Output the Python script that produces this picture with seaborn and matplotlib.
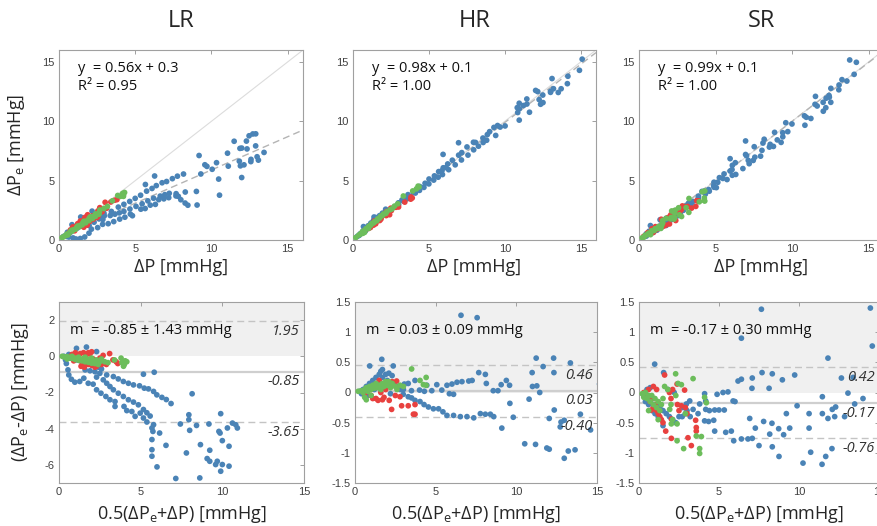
import numpy as np
import pandas as pd
import seaborn as sns
import matplotlib.pyplot as plt
from matplotlib.ticker import FuncFormatter

# ---------------- data (Bland-Altman coordinates: mean, difference) ----------------
lr_blue_m = [0.3,0.5,0.7,0.9,1.1,1.3,1.5,1.8,2.0,2.2,2.4,2.6,1.07,1.68,2.3,0.6,0.4,0.45,
             0.55,0.6,0.76,0.97,1.27,1.52,
             1.6,1.9,2.2,2.5,2.92,3.33,3.63,3.94,4.25,4.56,4.93,5.22,5.48,5.79,5.99,6.3,6.57,6.86,
             2.3,2.71,2.92,3.12,3.33,3.63,3.94,4.25,4.56,4.86,5.17,5.38,5.58,
             1.79,2.09,2.3,2.57,2.87,3.12,3.43,3.43,3.98,4.15,4.46,4.66,4.97,5.17,5.38,5.69,5.75,5.69,5.69,5.69,6.0,6.55,6.16,5.79,
             5.17,5.83,8.15,7.43,7.95,7.95,8.0,8.42,7.8,7.15,8.62,8.66,9.18,9.23,9.07,9.23,9.59,9.69,9.86,9.79,9.9,10.0,9.9,10.0,10.41,10.41,10.31,10.62,10.82,10.92]
lr_blue_d = [0.0,-0.05,-0.1,-0.15,-0.2,-0.25,-0.3,-0.4,-0.45,-0.5,-0.6,-0.7,0.44,0.51,0.26,0.1,-0.2,-0.4,
             -0.75,-1.03,-1.27,-1.43,-1.39,-1.21,
             -0.75,-0.8,-0.85,-0.94,-1.03,-1.12,-1.25,-1.39,-1.49,-1.58,-1.63,-1.76,-1.8,-1.94,-2.13,-2.27,-2.39,-2.61,
             -1.15,-1.3,-1.49,-1.67,-1.85,-2.04,-2.22,-2.4,-2.53,-2.68,-2.94,-3.12,-3.3,
             -1.49,-1.54,-1.85,-2.04,-2.22,-2.4,-2.5,-2.77,-2.77,-3.0,-3.05,-3.32,-3.14,-3.41,-3.63,-3.96,-4.15,-4.6,-5.16,-5.52,-6.11,-4.92,-4.24,-3.78,
             -0.99,-0.88,-2.07,-3.74,-3.5,-3.23,-4.09,-3.82,-5.34,-6.75,-6.72,-4.88,-3.74,-5.19,-5.65,-5.8,-5.98,-5.8,-4.24,-4.15,-3.17,-4.66,-6.35,-5.98,-6.07,-4.97,-3.96,-3.69,-3.78,-3.96]
lr_red_m = [0.6,0.8,1.0,1.1,1.2,1.3,1.4,1.5,1.6,1.7,1.8,1.9,2.0,2.1,2.2,2.3,2.4,2.5,2.6,2.7,2.9,3.1,3.3,3.5,3.6,1.35,1.55,0.9,2.0,1.8]
lr_red_d = [-0.05,0.1,0.2,0.05,-0.1,0.15,-0.3,0.2,-0.35,0.1,-0.45,0.15,-0.5,-0.15,-0.6,-0.55,-0.3,-0.1,-0.45,0.05,-0.45,0.15,-0.2,-0.3,-0.4,-0.55,-0.6,-0.25,0.25,0.2]
lr_green_m = [0.2,0.3,0.4,0.5,0.6,0.7,0.8,0.9,1.0,1.1,1.2,1.3,1.4,1.5,1.6,1.7,1.8,1.9,2.0,2.1,2.2,2.3,2.4,2.5,2.6,2.8,3.0,3.4,3.8,3.85,4.0,4.05,3.95,4.15,0.5,0.8,1.2,1.6,2.0]
lr_green_d = [0.0,-0.03,-0.05,-0.02,-0.1,-0.05,-0.12,-0.08,-0.18,-0.1,-0.22,-0.15,-0.25,-0.12,-0.3,-0.2,-0.33,-0.15,-0.38,-0.25,-0.4,-0.2,-0.45,-0.3,-0.15,-0.3,-0.35,-0.2,-0.1,-0.35,-0.45,-0.25,-0.55,-0.3,-0.15,0.0,-0.05,-0.05,-0.1]

hr_blue_m = [6.57,7.57,0.91,1.66,2.37,11.23,12.31,13.35,11.66,12.33,10.98,11.27,11.45,9.06,9.38,9.58,9.6,9.81,9.1,8.6,8.39,8.08,7.77,7.36,6.94,6.53,6.11,5.7,5.45,5.18,4.86,4.55,4.28,4.03,3.72,3.51,3.3,2.99,
             3.06,3.3,3.72,4.45,4.76,5.07,5.38,5.7,6.01,6.32,6.63,7.05,7.26,7.67,8.08,8.14,8.57,8.86,6.11,5.85,
             10.79,12.04,12.35,12.77,12.72,12.97,13.97,14.6,15.16,10.52,11.19,11.89,12.04,12.97,13.22,13.64,11.0,
             0.3,0.5,0.7,0.9,1.1,1.3,1.5,1.6,1.7,1.9,2.1,2.3,2.4,2.6,0.4,0.8,1.2,1.8,2.0,1.4,2.2,2.8,1.5,1.7,3.0,3.5,4.0,4.3]
hr_blue_d = [1.28,1.24,0.44,0.55,0.44,0.57,0.57,0.49,0.43,0.33,0.33,0.11,0.0,0.13,0.2,0.12,-0.18,-0.41,-0.59,-0.4,-0.36,-0.36,-0.35,-0.42,-0.4,-0.4,-0.38,-0.38,-0.32,-0.27,-0.27,-0.24,-0.2,-0.15,-0.13,-0.09,-0.07,-0.03,
             0.14,0.15,0.2,0.12,0.03,0.13,0.04,0.12,0.14,0.17,0.18,0.19,0.2,0.33,0.3,0.15,0.03,0.03,-0.03,-0.02,
             -0.11,-0.43,-0.29,-0.49,-0.57,-0.46,-0.36,-0.62,0.14,-0.85,-0.86,-0.92,-0.94,-1.09,-0.97,-0.95,0.1,
             0.02,0.05,0.1,0.15,0.2,0.25,0.3,0.35,0.38,0.3,0.32,0.28,0.15,0.1,-0.02,-0.05,0.05,0.1,0.2,0.1,-0.02,0.05,0.15,0.25,0.05,0.03,0.04,0.02]
hr_red_m = [0.6,0.8,1.0,1.2,1.3,1.43,1.6,1.7,1.8,1.9,2.12,2.31,2.58,2.27,2.79,2.89,3.3,3.72,3.62,3.72,1.5,2.0,2.2,2.5,1.1]
hr_red_d = [-0.02,0.03,-0.05,0.08,-0.1,-0.13,0.0,-0.12,-0.08,0.05,-0.13,0.18,0.19,-0.28,-0.07,-0.22,-0.22,-0.2,-0.36,-0.36,0.2,0.12,0.15,-0.05,-0.1]
hr_green_m = [0.2,0.4,0.5,0.6,0.7,0.8,0.9,1.0,1.1,1.2,1.3,1.4,1.5,1.6,1.7,1.8,1.9,2.0,2.1,2.2,2.3,2.5,2.6,0.6,1.0,0.7,3.51,4.03,4.24,4.41,4.41,2.79,3.0]
hr_green_d = [0.02,0.03,0.0,0.05,0.08,0.02,0.1,0.05,0.12,0.07,0.15,0.08,0.12,0.05,0.15,0.1,0.18,0.12,0.18,0.08,0.15,0.1,0.05,-0.08,-0.05,-0.12,0.39,0.2,0.13,0.12,0.25,0.12,0.1]

sr_blue_m = [7.65,6.4,14.46,14.58,0.98,1.54,11.81,6.19,6.4,7.08,7.69,8.33,8.96,9.73,12.65,13.06,13.38,11.46,8.13,7.06,5.56,5.25,5.88,6.0,4.88,4.1,4.73,5.0,5.33,4.67,4.35,4.1,4.73,5.42,5.77,5.92,6.4,6.81,7.08,6.92,7.27,7.5,7.79,8.31,8.33,8.17,8.73,8.75,9.04,9.21,9.42,9.88,10.25,10.63,10.63,10.73,11.46,11.81,12.06,12.08,12.29,12.23,11.44,11.67,12.85,13.48,14.0,
             3.79,3.17,2.96,2.75,3.38,3.69,4.17,4.17,4.4,
             0.3,0.5,0.7,0.9,1.1,1.3,1.5,1.7,1.9,2.1,2.3,2.5,2.7,1.5,0.4,0.6,0.8,1.0,1.2,1.8,2.2,3.0,2.9,3.2]
sr_blue_d = [1.38,0.9,1.4,0.77,0.47,0.33,0.57,0.19,0.22,0.24,0.33,0.31,0.21,0.29,0.24,-0.01,0.25,-0.07,0.07,0.07,0.01,0.0,-0.14,-0.15,-0.03,-0.02,-0.29,-0.29,-0.29,-0.46,-0.48,-0.47,-0.64,-0.66,-0.64,-0.8,-0.77,-0.77,-0.76,-0.43,-0.59,-0.88,-0.48,-0.51,-0.9,-0.69,-0.6,-1.06,-0.7,-0.35,-0.59,-0.22,-1.17,-0.35,-0.59,-0.99,-0.35,-0.43,-0.93,-0.28,-0.24,-0.4,-1.19,-1.06,-0.4,-0.19,-0.1,
             -0.19,-0.14,-0.19,-0.25,-0.28,-0.35,-0.28,-0.14,-0.3,
             -0.05,0.05,0.08,-0.1,-0.2,-0.25,-0.3,-0.35,-0.4,-0.45,-0.5,-0.4,-0.4,-0.55,-0.15,-0.2,-0.3,-0.35,-0.4,0.05,0.0,-0.3,-0.35,-0.4]
sr_red_m = [0.3,0.5,0.6,0.7,0.8,0.9,1.0,1.1,1.2,1.3,1.4,1.5,1.67,1.6,1.9,2.0,2.1,2.38,2.4,2.5,2.65,2.85,2.9,3.0,2.02,2.02,3.06,3.27,3.54,3.58,3.58,0.77,1.1,0.9]
sr_red_d = [0.0,-0.05,0.05,-0.15,-0.1,-0.25,-0.2,-0.3,-0.35,-0.4,-0.45,-0.5,-0.64,0.29,0.0,-0.1,0.05,0.14,-0.2,-0.3,-0.22,0.04,-0.25,-0.35,-0.76,-0.44,-0.75,-0.88,-0.46,-0.58,-0.64,-0.29,0.05,0.1]
sr_green_m = [0.2,0.3,0.4,0.5,0.6,0.7,0.8,0.9,1.0,1.1,1.2,1.3,1.4,1.5,1.6,1.8,2.29,2.44,2.65,2.3,2.0,1.92,2.02,2.38,2.1,2.38,2.79,3.79,3.79,3.58,3.9,3.38,4.1,4.21,2.9,1.2,0.6]
sr_green_d = [-0.02,-0.08,0.0,-0.1,-0.05,-0.15,-0.05,-0.2,-0.1,-0.25,-0.15,-0.3,-0.2,-0.1,0.1,0.05,0.31,0.15,0.13,-0.05,-0.2,-0.28,-0.52,-0.52,-0.45,-0.8,-0.93,-0.93,-1.01,-0.72,-0.73,0.23,-0.08,-0.17,-0.35,-0.45,-0.3]

titles = ["LR", "HR", "SR"]
fit_slope = [0.56, 0.98, 0.99]
fit_icpt = [0.3, 0.1, 0.1]
fit_text = ["y  = 0.56x + 0.3\nR² = 0.95", "y  = 0.98x + 0.1\nR² = 1.00", "y  = 0.99x + 0.1\nR² = 1.00"]
ba_text = ["m  = -0.85 ± 1.43 mmHg", "m  = 0.03 ± 0.09 mmHg", "m  = -0.17 ± 0.30 mmHg"]
ba_mean = [-0.85, 0.03, -0.17]
ba_upper = [1.95, 0.46, 0.42]
ba_lower = [-3.65, -0.40, -0.76]
ba_labels = [("1.95", "-0.85", "-3.65"), ("0.46", "0.03", "-0.40"), ("0.42", "-0.17", "-0.76")]
ba_ylim = [(-7, 3), (-1.5, 1.5), (-1.5, 1.5)]
ba_yticks = [[-6, -4, -2, 0, 2], [-1.5, -1, -0.5, 0, 0.5, 1, 1.5], [-1.5, -1, -0.5, 0, 0.5, 1, 1.5]]

groups = ["blue", "red", "green"]
palette = {"blue": "#4a83b6", "red": "#e8413f", "green": "#6cbd5b"}

data_sets = [
    [(lr_blue_m, lr_blue_d), (lr_red_m, lr_red_d), (lr_green_m, lr_green_d)],
    [(hr_blue_m, hr_blue_d), (hr_red_m, hr_red_d), (hr_green_m, hr_green_d)],
    [(sr_blue_m, sr_blue_d), (sr_red_m, sr_red_d), (sr_green_m, sr_green_d)],
]

# ---------------- styling ----------------
sns.set_theme(style="white")
plt.rcParams['font.family'] = ['Open Sans', 'DejaVu Sans']
plt.rcParams['mathtext.fontset'] = 'custom'
plt.rcParams['mathtext.rm'] = 'Open Sans'
plt.rcParams['mathtext.it'] = 'Open Sans:italic'
plt.rcParams['axes.unicode_minus'] = False

fig = plt.figure(figsize=(8.78, 5.26), dpi=100)
W, H = 878, 526

def px_axes(l, t, r, b):
    return fig.add_axes([l / W, 1 - b / H, (r - l) / W, (b - t) / H])

top_boxes = [(59, 50, 303, 240), (353, 50, 596, 240), (639, 50, 884, 240)]
bot_boxes = [(59, 302, 304, 483), (355, 302, 597, 483), (639, 302, 879, 483)]

fmt = FuncFormatter(lambda v, p: f"{v:g}")

def style_ax(ax):
    for sp in ax.spines.values():
        sp.set_color('#a0a0a0')
        sp.set_linewidth(0.8)
    ax.tick_params(direction='in', length=3, width=0.7, color='#a0a0a0',
                   top=True, right=True, labelsize=8, labelcolor='#404040', pad=3)
    for lab in ax.get_xticklabels() + ax.get_yticklabels():
        lab.set_family('Liberation Sans')
    ax.yaxis.set_major_formatter(fmt)
    ax.xaxis.set_major_formatter(fmt)

for i in range(3):
    rows = []
    for g, (m_arr, d_arr) in zip(groups, data_sets[i]):
        for m, d in zip(m_arr, d_arr):
            rows.append({"group": g, "mean": m, "diff": d,
                         "dp": m - d / 2.0, "dpe": m + d / 2.0})
    df = pd.DataFrame(rows)

    # ---- top: correlation ----
    ax = px_axes(*top_boxes[i])
    ax.set_xlim(0, 16)
    ax.set_ylim(0, 16)
    ax.plot([0, 16], [0, 16], color='#dcdcdc', lw=0.8, zorder=1)
    xs = np.array([0, 16])
    ax.plot(xs, fit_slope[i] * xs + fit_icpt[i], color='#b4b4b4', lw=1.0,
            ls=(0, (5, 3)), zorder=1)
    sns.scatterplot(data=df, x="dp", y="dpe", hue="group", palette=palette,
                    s=17, linewidth=0, legend=False, ax=ax, zorder=3)
    ax.set_xticks([0, 5, 10, 15])
    ax.set_yticks([0, 5, 10, 15])
    style_ax(ax)
    ax.set_xlabel("ΔP [mmHg]", fontsize=13, labelpad=3)
    if i == 0:
        ax.set_ylabel("ΔP$_\\mathrm{e}$ [mmHg]", fontsize=13, labelpad=11)
    else:
        ax.set_ylabel("")
    ax.text(0.078, 0.855, fit_text[i], transform=ax.transAxes, fontsize=10.5,
            va='center', ha='left', color='#111111', linespacing=1.25)
    cx = (top_boxes[i][0] + top_boxes[i][2]) / 2.0
    fig.text(cx / W, 1 - 21 / H, titles[i], fontsize=17, ha='center', va='center')

    # ---- bottom: Bland-Altman ----
    ax = px_axes(*bot_boxes[i])
    ylo, yhi = ba_ylim[i]
    ax.set_xlim(0, 15)
    ax.set_ylim(ylo, yhi)
    ax.axhspan(0, yhi, color='#f0f0f0', zorder=0, lw=0)
    ax.axhline(ba_mean[i], color='#cfcfcf', lw=1.6, zorder=1)
    ax.axhline(ba_upper[i], color='#c4c4c4', lw=1.0, ls=(0, (5, 3)), zorder=1)
    ax.axhline(ba_lower[i], color='#c4c4c4', lw=1.0, ls=(0, (5, 3)), zorder=1)
    sns.scatterplot(data=df, x="mean", y="diff", hue="group", palette=palette,
                    s=17, linewidth=0, legend=False, ax=ax, zorder=3)
    ax.set_xticks([0, 5, 10, 15])
    ax.set_yticks(ba_yticks[i])
    style_ax(ax)
    ax.set_xlabel("0.5(ΔP$_\\mathrm{e}$+ΔP) [mmHg]", fontsize=13, labelpad=5)
    if i == 0:
        ax.set_ylabel("(ΔP$_\\mathrm{e}$-ΔP) [mmHg]", fontsize=13, labelpad=10)
    else:
        ax.set_ylabel("")
    for val, lab in zip([ba_upper[i], ba_mean[i], ba_lower[i]], ba_labels[i]):
        ax.annotate(lab, xy=(1, val), xycoords=('axes fraction', 'data'),
                    xytext=(-3, -2), textcoords='offset points', ha='right', va='top',
                    fontsize=10.5, style='italic', color='#303030', zorder=4)
    ax.text(0.045, 0.845, ba_text[i], transform=ax.transAxes, fontsize=10.5,
            va='center', ha='left', color='#111111')

fig.savefig("out.png", dpi=100)
